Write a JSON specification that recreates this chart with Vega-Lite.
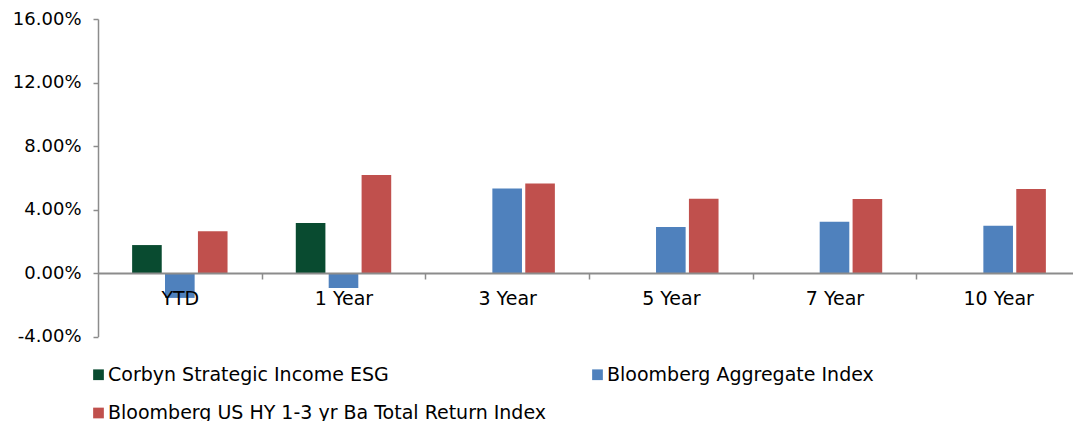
{
  "$schema": "https://vega.github.io/schema/vega-lite/v6.json",
  "width": 975,
  "height": 317.5,
  "autosize": {"type": "none"},
  "padding": {"left": 98, "top": 19, "right": 0, "bottom": 84.5},
  "background": "white",
  "config": {"view": {"stroke": null}, "font": "DejaVu Sans"},
  "data": {
    "values": [
      {"period": "YTD", "series": "Corbyn Strategic Income ESG", "value": 0.0176},
      {"period": "YTD", "series": "Bloomberg Aggregate Index", "value": -0.0157},
      {"period": "YTD", "series": "Bloomberg US HY 1-3 yr Ba Total Return Index", "value": 0.0263},
      {"period": "1 Year", "series": "Corbyn Strategic Income ESG", "value": 0.0315},
      {"period": "1 Year", "series": "Bloomberg Aggregate Index", "value": -0.0094},
      {"period": "1 Year", "series": "Bloomberg US HY 1-3 yr Ba Total Return Index", "value": 0.0617},
      {"period": "3 Year", "series": "Bloomberg Aggregate Index", "value": 0.0533},
      {"period": "3 Year", "series": "Bloomberg US HY 1-3 yr Ba Total Return Index", "value": 0.0563},
      {"period": "5 Year", "series": "Bloomberg Aggregate Index", "value": 0.0289},
      {"period": "5 Year", "series": "Bloomberg US HY 1-3 yr Ba Total Return Index", "value": 0.0468},
      {"period": "7 Year", "series": "Bloomberg Aggregate Index", "value": 0.0323},
      {"period": "7 Year", "series": "Bloomberg US HY 1-3 yr Ba Total Return Index", "value": 0.0466},
      {"period": "10 Year", "series": "Bloomberg Aggregate Index", "value": 0.0298},
      {"period": "10 Year", "series": "Bloomberg US HY 1-3 yr Ba Total Return Index", "value": 0.0529}
    ]
  },
  "mark": {"type": "bar"},
  "encoding": {
    "x": {
      "field": "period",
      "type": "nominal",
      "sort": ["YTD", "1 Year", "3 Year", "5 Year", "7 Year", "10 Year"],
      "scale": {"range": [0, 982], "paddingInner": 0.417, "paddingOuter": 0.2085},
      "axis": {
        "title": null,
        "labelAngle": 0,
        "offset": -63.5,
        "domainColor": "#8c8c8c",
        "domainWidth": 2,
        "tickColor": "#8c8c8c",
        "tickWidth": 1.5,
        "tickSize": 6,
        "tickOffset": 81.83,
        "labelOffset": -81.83,
        "labelFontSize": 19,
        "labelColor": "#000000",
        "labelPadding": 10,
        "zindex": 1
      }
    },
    "xOffset": {
      "field": "series",
      "type": "nominal",
      "scale": {
        "domain": ["Corbyn Strategic Income ESG", "Bloomberg Aggregate Index", "Bloomberg US HY 1-3 yr Ba Total Return Index"],
        "paddingInner": 0.1,
        "paddingOuter": 0
      }
    },
    "y": {
      "field": "value",
      "type": "quantitative",
      "scale": {"domain": [-0.04, 0.16], "nice": false, "zero": false},
      "axis": {
        "title": null,
        "values": [-0.04, 0, 0.04, 0.08, 0.12, 0.16],
        "format": ".2%",
        "labelExpr": "replace(datum.label, '−', '-')",
        "grid": false,
        "domainColor": "#8c8c8c",
        "domainWidth": 1.5,
        "tickColor": "#8c8c8c",
        "tickWidth": 1.5,
        "tickSize": 5,
        "labelFontSize": 18,
        "labelColor": "#000000",
        "labelPadding": 12
      }
    },
    "color": {
      "field": "series",
      "type": "nominal",
      "scale": {
        "domain": ["Corbyn Strategic Income ESG", "Bloomberg US HY 1-3 yr Ba Total Return Index", "Bloomberg Aggregate Index"],
        "range": ["#094b30", "#c0504d", "#4f81bd"]
      },
      "legend": {
        "title": null,
        "orient": "none",
        "legendX": -9,
        "legendY": 346,
        "columns": 2,
        "columnPadding": 41,
        "rowPadding": 18.5,
        "symbolType": "square",
        "symbolSize": 115,
        "symbolStrokeWidth": 0,
        "labelFontSize": 19,
        "labelColor": "#000000",
        "labelOffset": 0,
        "labelLimit": 1000,
        "padding": 0
      }
    }
  }
}
